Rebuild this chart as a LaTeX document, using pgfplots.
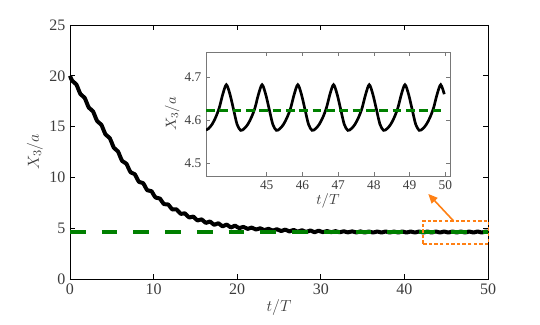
\documentclass[border=0pt]{standalone}
\usepackage{fontspec}
\setmainfont{Liberation Serif}
\usepackage{pgfplots}
\pgfplotsset{compat=1.18}
\usetikzlibrary{arrows.meta}
\definecolor{mgreen}{RGB}{0,128,0}
\definecolor{morange}{RGB}{255,128,20}
\definecolor{insetgray}{RGB}{120,120,120}
\definecolor{ticktext}{RGB}{60,60,60}

\begin{document}
\begin{tikzpicture}
\path[use as bounding box] (0,0) rectangle (405pt,243.75pt);
% main axis
\begin{axis}[at={(52.5pt,34.5pt)}, anchor=south west, scale only axis,
  width=313.5pt, height=190.5pt,
  xmin=0, xmax=50, ymin=0, ymax=25,
  xtick={0,10,...,50}, ytick={0,5,...,25},
  tick align=inside, tick pos=both, major tick length=3.5pt,
  axis line style={black, line width=0.7pt}, every tick/.style={black, line width=0.6pt},
  /pgf/number format/assume math mode=true,
  ticklabel style={font=\fontsize{12}{14}\selectfont, text=ticktext},
  label style={font=\fontsize{12.5}{15}\selectfont, text=ticktext},
  xlabel={$t/T$}, ylabel={$X_3/a$},
  xlabel style={yshift=3pt}, ylabel style={yshift=-2pt},
  clip=false]
\addplot[black, line width=3pt, smooth, line join=round] coordinates {
(0,20.00) (0.25,19.52) (0.5,19.34) (0.75,19.16)
(1,18.68) (1.25,18.20) (1.5,18.02) (1.75,17.83)
(2,17.35) (2.25,16.87) (2.5,16.69) (2.75,16.50)
(3,16.02) (3.25,15.54) (3.5,15.36) (3.75,15.18)
(4,14.70) (4.25,14.23) (4.5,14.05) (4.75,13.87)
(5,13.40) (5.25,12.91) (5.5,12.73) (5.75,12.54)
(6,12.05) (6.25,11.61) (6.5,11.48) (6.75,11.34)
(7,10.90) (7.25,10.51) (7.5,10.41) (7.75,10.31)
(8,9.92) (8.25,9.56) (8.5,9.50) (8.75,9.43)
(9,9.07) (9.25,8.73) (9.5,8.69) (9.75,8.64)
(10,8.30) (10.25,8.01) (10.5,7.97) (10.75,7.92)
(11,7.63) (11.25,7.37) (11.5,7.35) (11.75,7.33)
(12,7.07) (12.25,6.84) (12.5,6.85) (12.75,6.85)
(13,6.62) (13.25,6.41) (13.5,6.44) (13.75,6.46)
(14,6.25) (14.25,6.05) (14.5,6.10) (14.75,6.14)
(15,5.94) (15.25,5.76) (15.5,5.82) (15.75,5.87)
(16,5.69) (16.25,5.52) (16.5,5.59) (16.75,5.66)
(17,5.49) (17.25,5.33) (17.5,5.41) (17.75,5.49)
(18,5.33) (18.25,5.18) (18.5,5.27) (18.75,5.36)
(19,5.21) (19.25,5.07) (19.5,5.16) (19.75,5.26)
(20,5.11) (20.25,5.01) (20.5,5.07) (20.75,5.13)
(21,5.03) (21.25,4.93) (21.5,5.00) (21.75,5.06)
(22,4.96) (22.25,4.87) (22.5,4.93) (22.75,4.99)
(23,4.90) (23.25,4.81) (23.5,4.88) (23.75,4.94)
(24,4.85) (24.25,4.76) (24.5,4.83) (24.75,4.90)
(25,4.81) (25.25,4.72) (25.5,4.79) (25.75,4.86)
(26,4.77) (26.25,4.68) (26.5,4.76) (26.75,4.83)
(27,4.74) (27.25,4.65) (27.5,4.73) (27.75,4.80)
(28,4.71) (28.25,4.63) (28.5,4.70) (28.75,4.78)
(29,4.69) (29.25,4.60) (29.5,4.68) (29.75,4.76)
(30,4.67) (30.25,4.62) (30.5,4.665) (30.75,4.72)
(31,4.66) (31.25,4.61) (31.5,4.655) (31.75,4.71)
(32,4.65) (32.25,4.60) (32.5,4.645) (32.75,4.70)
(33,4.64) (33.25,4.59) (33.5,4.64) (33.75,4.69)
(34,4.635) (34.25,4.585) (34.5,4.63) (34.75,4.685)
(35,4.625) (35.25,4.575) (35.5,4.62) (35.75,4.675)
(36,4.625) (36.25,4.575) (36.5,4.62) (36.75,4.675)
(37,4.625) (37.25,4.575) (37.5,4.62) (37.75,4.675)
(38,4.625) (38.25,4.575) (38.5,4.62) (38.75,4.675)
(39,4.625) (39.25,4.575) (39.5,4.62) (39.75,4.675)
(40,4.625) (40.25,4.575) (40.5,4.62) (40.75,4.675)
(41,4.625) (41.25,4.575) (41.5,4.62) (41.75,4.675)
(42,4.625) (42.25,4.575) (42.5,4.62) (42.75,4.675)
(43,4.625) (43.25,4.575) (43.5,4.62) (43.75,4.675)
(44,4.625) (44.25,4.575) (44.5,4.62) (44.75,4.675)
(45,4.625) (45.25,4.575) (45.5,4.62) (45.75,4.675)
(46,4.625) (46.25,4.575) (46.5,4.62) (46.75,4.675)
(47,4.625) (47.25,4.575) (47.5,4.62) (47.75,4.675)
(48,4.625) (48.25,4.575) (48.5,4.62) (48.75,4.675)
(49,4.625) (49.25,4.575) (49.5,4.62) (49.75,4.675)
(50,4.625)};
\addplot[mgreen, line width=3pt, dash pattern=on 11.8pt off 12pt] coordinates {(0,4.62) (50,4.62)};
% zoom box and arrow
\draw[morange, line width=1.2pt, dash pattern=on 2.6pt off 1.6pt] (axis cs:42.2,3.45) rectangle (axis cs:50.05,5.72);
\draw[morange, line width=1.2pt, -{Triangle[length=7pt,width=6pt]}] (axis cs:45.85,5.74) -- (axis cs:42.86,8.37);
\end{axis}
% inset
\begin{axis}[at={(154.5pt,111.75pt)}, anchor=south west, scale only axis,
  width=183pt, height=93pt,
  xmin=43.3, xmax=50.13, ymin=4.47, ymax=4.758,
  xtick={45,46,...,50}, ytick={4.5,4.6,4.7},
  yticklabel style={/pgf/number format/.cd, fixed, fixed zerofill, precision=1},
  tick align=inside, tick pos=both, major tick length=3pt,
  axis line style={insetgray, line width=0.6pt}, every tick/.style={insetgray, line width=0.5pt},
  axis background/.style={fill=white},
  /pgf/number format/assume math mode=true,
  ticklabel style={font=\fontsize{10}{12}\selectfont, text=ticktext},
  label style={font=\fontsize{11}{13}\selectfont, text=ticktext},
  xlabel={$t/T$}, ylabel={$X_3/a$},
  xlabel style={yshift=4pt}, ylabel style={yshift=-3pt}]
\addplot[black, line width=2pt, smooth] coordinates {
(43.30,4.577) (43.37,4.580) (43.47,4.590) (43.57,4.606) (43.67,4.628) (43.77,4.660)
(43.87,4.682) (43.97,4.660) (44.07,4.625) (44.17,4.590) (44.27,4.576)
(44.37,4.580) (44.47,4.590) (44.57,4.606) (44.67,4.628) (44.77,4.660)
(44.87,4.682) (44.97,4.660) (45.07,4.625) (45.17,4.590) (45.27,4.576)
(45.37,4.580) (45.47,4.590) (45.57,4.606) (45.67,4.628) (45.77,4.660)
(45.87,4.682) (45.97,4.660) (46.07,4.625) (46.17,4.590) (46.27,4.576)
(46.37,4.580) (46.47,4.590) (46.57,4.606) (46.67,4.628) (46.77,4.660)
(46.87,4.682) (46.97,4.660) (47.07,4.625) (47.17,4.590) (47.27,4.576)
(47.37,4.580) (47.47,4.590) (47.57,4.606) (47.67,4.628) (47.77,4.660)
(47.87,4.682) (47.97,4.660) (48.07,4.625) (48.17,4.590) (48.27,4.576)
(48.37,4.580) (48.47,4.590) (48.57,4.606) (48.67,4.628) (48.77,4.660)
(48.87,4.682) (48.97,4.660) (49.07,4.625) (49.17,4.590) (49.27,4.576)
(49.37,4.580) (49.47,4.590) (49.57,4.606) (49.67,4.628) (49.77,4.660)
(49.87,4.682) (49.97,4.660)};
\addplot[mgreen, line width=1.6pt, dash pattern=on 6.5pt off 3.5pt] coordinates {(43.3,4.622) (50,4.622)};
\end{axis}
\end{tikzpicture}
\end{document}
